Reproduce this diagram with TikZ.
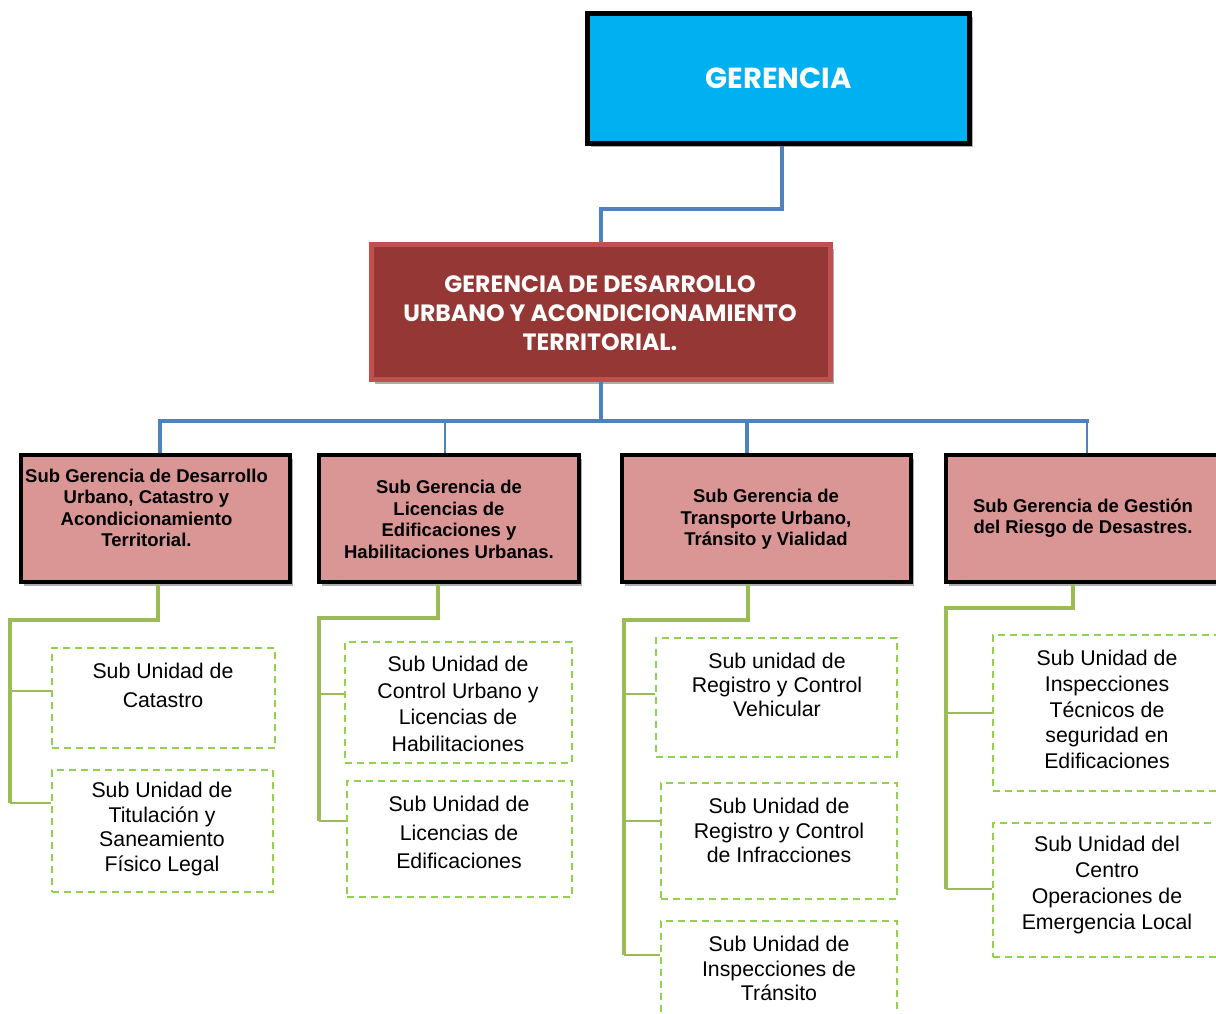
\documentclass[tikz,border=0pt]{standalone}
\usepackage{fontspec}
\setmainfont{Liberation Sans}
\newfontfamily\gothic{Poppins}
\usetikzlibrary{shadows,calc}
\definecolor{gcyan}{HTML}{00B0F0}
\definecolor{gdred}{HTML}{953735}
\definecolor{gredb}{HTML}{C0504D}
\definecolor{gpink}{HTML}{D99694}
\definecolor{gblue}{HTML}{4F81BD}
\definecolor{ggreen}{HTML}{9BBB59}
\definecolor{gdash}{HTML}{92D050}
\tikzset{
  shd/.style={drop shadow={shadow xshift=3pt,shadow yshift=-4pt,opacity=0.45,fill=black!70}},
  topbox/.style={draw=black,line width=5pt,fill=gcyan,shd,rectangle,inner sep=0pt},
  redbox/.style={draw=gredb,line width=5pt,fill=gdred,shd,rectangle,inner sep=0pt},
  subbox/.style={draw=black,line width=4pt,fill=gpink,shd,rectangle,inner sep=0pt},
  unitbox/.style={draw=gdash,line width=2pt,dash pattern=on 7pt off 5pt,rectangle,inner sep=0pt},
  bigtxt/.style={text=white,align=center,font=\gothic\bfseries\fontsize{23.6}{29}\selectfont,inner sep=0pt},
  subtxt/.style={text=black,align=center,font=\bfseries\fontsize{18.5}{21.5}\selectfont,inner sep=0pt},
  unittxt/.style={text=black,align=center,font=\fontsize{21.3}{#1}\selectfont,inner sep=0pt},
  unittxt/.default=25,
  bthick/.style={draw=gblue,line width=4.5pt},
  bthin/.style={draw=gblue,line width=1.5pt},
  gthick/.style={draw=ggreen,line width=4pt},
  gthin/.style={draw=ggreen,line width=2pt},
}
\begin{document}
\begin{tikzpicture}[x=1pt,y=-1pt]
\useasboundingbox (0,0) rectangle (1216,1014);
\clip (0,0) rectangle (1216,1014);

\coordinate (j0) at (601,421);
\coordinate (j1) at (160,421);
\coordinate (j2) at (445,421);
\coordinate (j3) at (747,421);
\coordinate (j4) at (1087,421);

% ---- boxes ----
\node[topbox,minimum width=382,minimum height=130] (g) at (778.5,78.5) {};
\node[bigtxt,font=\gothic\bfseries\fontsize{29}{32}\selectfont] (gt) at (778.5,78) {GERENCIA};

\node[redbox,minimum width=459,minimum height=135] (r) at (601,312) {};
\node[bigtxt] (rt) at (600,313) {GERENCIA DE DESARROLLO\\URBANO Y ACONDICIONAMIENTO\\TERRITORIAL.};

\node[subbox,minimum width=269,minimum height=127] (b1) at (155.5,518.5) {};
\node[subtxt] (b1t) at (146.5,508) {Sub Gerencia de Desarrollo\\Urbano, Catastro y\\Acondicionamiento\\Territorial.};
\node[subbox,minimum width=260,minimum height=127] (b2) at (449,518.5) {};
\node[subtxt] (b2t) at (449,519.5) {Sub Gerencia de\\Licencias de\\Edificaciones y\\Habilitaciones Urbanas.};
\node[subbox,minimum width=289,minimum height=127] (b3) at (766.5,518.5) {};
\node[subtxt] (b3t) at (766,519.5) {Sub Gerencia de\\Transporte Urbano,\\Tránsito y Vialidad};
\node[subbox,minimum width=282,minimum height=127] (b4) at (1087,518) {};
\node[subtxt] (b4t) at (1083,518) {Sub Gerencia de Gestión\\del Riesgo de Desastres.};

\node[unitbox,minimum width=223,minimum height=100] (d11) at (163.5,698) {};
\node[unittxt=29] (d11t) at (163,685.5) {Sub Unidad de\\Catastro};
\node[unitbox,minimum width=221,minimum height=122] (d12) at (162.5,831) {};
\node[unittxt=24.7] (d12t) at (162,829) {Sub Unidad de\\Titulación y\\Saneamiento\\Físico Legal};

\node[unitbox,minimum width=227,minimum height=121] (d21) at (458.5,702.5) {};
\node[unittxt=26.7] (d21t) at (458,704) {Sub Unidad de\\Control Urbano y\\Licencias de\\Habilitaciones};
\node[unitbox,minimum width=225,minimum height=116] (d22) at (459.5,839) {};
\node[unittxt=28.5] (d22t) at (459,832.5) {Sub Unidad de\\Licencias de\\Edificaciones};

\node[unitbox,minimum width=241,minimum height=119] (d31) at (776.5,697.5) {};
\node[unittxt=24] (d31t) at (777,685) {Sub unidad de\\Registro y Control\\Vehicular};
\node[unitbox,minimum width=236,minimum height=116] (d32) at (779,841) {};
\node[unittxt=24.5] (d32t) at (779,830.5) {Sub Unidad de\\Registro y Control\\de Infracciones};
\node[unitbox,minimum width=236,minimum height=116] (d33) at (779,979) {};
\node[unittxt=24.5] (d33t) at (779,968.5) {Sub Unidad de\\Inspecciones de\\Tránsito};

\node[unitbox,minimum width=228,minimum height=156] (d41) at (1107,713) {};
\node[unittxt=25.75] (d41t) at (1107,709.5) {Sub Unidad de\\Inspecciones\\Técnicos de\\seguridad en\\Edificaciones};
\node[unitbox,minimum width=228,minimum height=134] (d42) at (1107,890) {};
\node[unittxt=26] (d42t) at (1107,885) {Sub Unidad del\\Centro\\Operaciones de\\Emergencia Local};

% ---- blue connectors ----
\draw[bthick] ([xshift=3.5pt]g.south) -- ++(0,63) -| (r.north);
\draw[bthick] (r.south) -- (j0);
\draw[bthick,line cap=rect] (j1) -- (j4);
\draw[bthick] (j1) -- (j1 |- b1.north);
\draw[bthin] (j2) -- (j2 |- b2.north);
\draw[bthick] (j3) -- (j3 |- b3.north);
\draw[bthin] (j4) -- (j4 |- b4.north);

% ---- green connectors ----
\coordinate (k1) at (158,620); \coordinate (s1) at (10,620);
\coordinate (k2) at (438,618); \coordinate (s2) at (319,618);
\coordinate (k3) at (748,620); \coordinate (s3) at (624,620);
\coordinate (k4) at (1073,608); \coordinate (s4) at (946,608);

\coordinate (e11) at ([yshift=7pt]d11.west);
\coordinate (e12) at ([yshift=28pt]d12.west);
\coordinate (e21) at ([yshift=8.5pt]d21.west);
\coordinate (e22) at ([yshift=18pt]d22.west);
\coordinate (e31) at ([yshift=3.5pt]d31.west);
\coordinate (e32) at ([yshift=20pt]d32.west);
\coordinate (e33) at ([yshift=24pt]d33.west);
\coordinate (e41) at (d41.west);
\coordinate (e42) at ([yshift=1pt]d42.west);

\draw[gthick] (k1 |- b1.south) -- (k1) -- (s1) -- (s1 |- e12);
\draw[gthin] (e11) -- (e11 -| s1);
\draw[gthin] (e12) -- (e12 -| s1);

\draw[gthick] (k2 |- b2.south) -- (k2) -- (s2) -- (s2 |- e22);
\draw[gthin] (e21) -- (e21 -| s2);
\draw[gthin] (e22) -- (e22 -| s2);

\draw[gthick] (k3 |- b3.south) -- (k3) -- (s3) -- (s3 |- e33);
\draw[gthin] (e31) -- (e31 -| s3);
\draw[gthin] (e32) -- (e32 -| s3);
\draw[gthin] (e33) -- (e33 -| s3);

\draw[gthick] (k4 |- b4.south) -- (k4) -- (s4) -- (s4 |- e42);
\draw[gthin] (e41) -- (e41 -| s4);
\draw[gthin] (e42) -- (e42 -| s4);
\end{tikzpicture}
\end{document}
